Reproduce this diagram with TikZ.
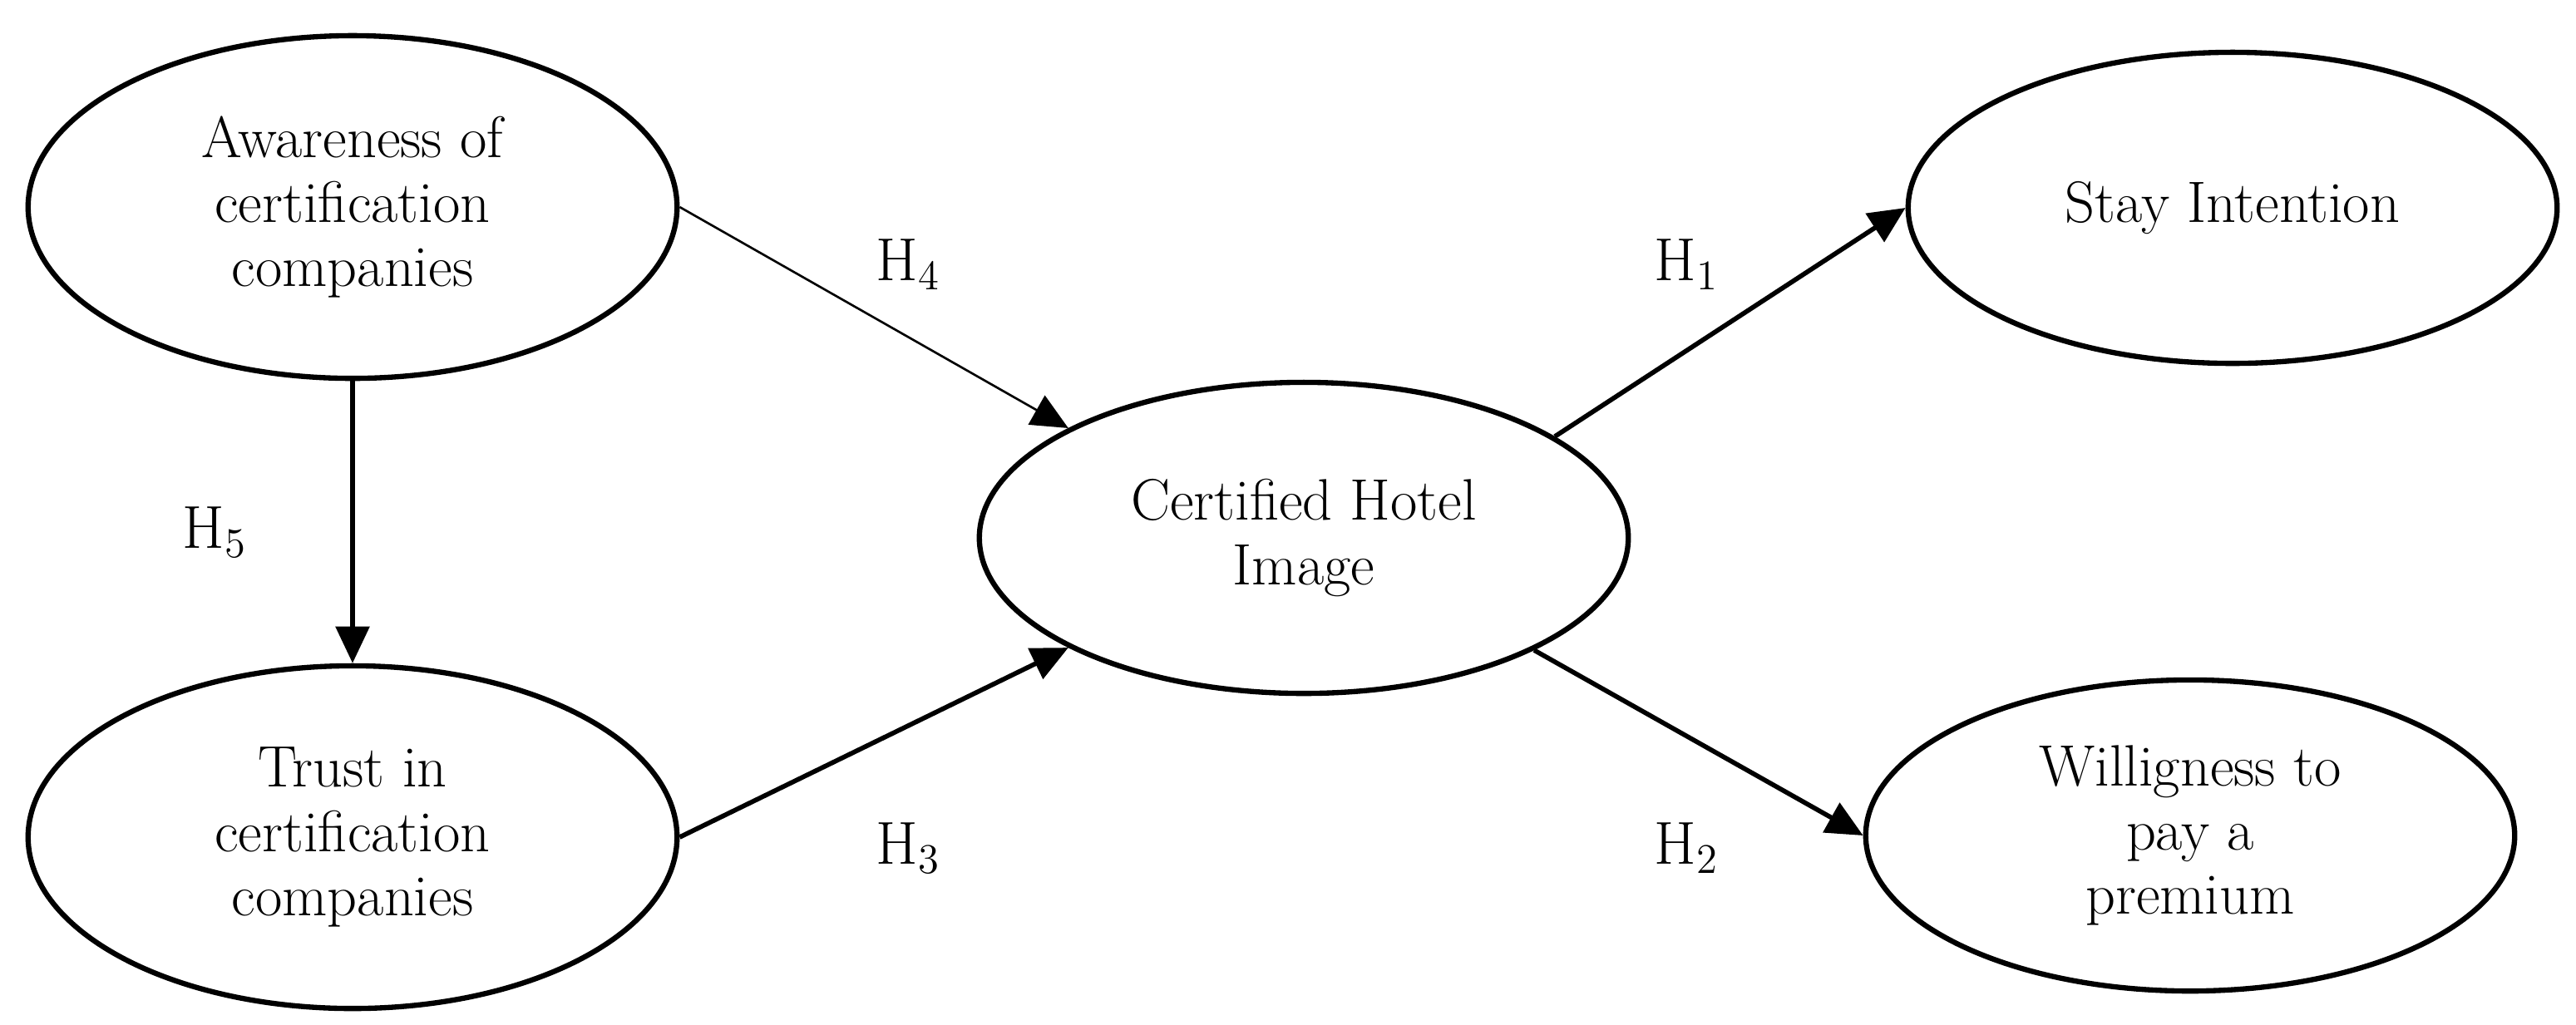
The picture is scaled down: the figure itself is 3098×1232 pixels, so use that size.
\documentclass[tikz,border=0pt]{standalone}
\usetikzlibrary{shapes.geometric,arrows.meta}
\begin{document}
\begin{tikzpicture}[x=0.01cm,y=-0.01cm,
  construct/.style={ellipse, draw, line width=1.8pt, minimum width=7.8cm, inner sep=0pt, align=center, font=\fontsize{20}{22}\selectfont},
  thickpath/.style={line width=1.6pt, -{Triangle[length=0.44cm,width=0.4cm]}},
  thinpath/.style={line width=0.75pt, -{Triangle[length=0.44cm,width=0.4cm]}},
  hlabel/.style={font=\fontsize{22}{24}\selectfont, inner sep=0pt}]
\useasboundingbox (0,0) rectangle (3098,1232);
\node[construct, minimum height=4.12cm] (aware) at (424,249) {Awareness of\\certification\\companies};
\node[construct, minimum height=4.12cm] (trust) at (424,1007) {Trust in\\certification\\companies};
\node[construct, minimum height=3.74cm] (cert) at (1568,647) {Certified Hotel\\Image};
\node[construct, minimum height=3.74cm] (stay) at (2685,250) {Stay Intention};
\node[construct, minimum height=3.74cm] (will) at (2634,1005) {Willigness to\\pay a\\premium};
\draw[thinpath] (aware.east) -- (cert.155);
\draw[thickpath] (aware.south) -- (trust.north);
\draw[thickpath] (trust.east) -- (cert.205);
\draw[thickpath] (cert.22) -- (stay.west);
\draw[thickpath] (cert.-26) -- (will.west);
\node[hlabel] (h4) at (1092,318) {$\mathrm{H}_{4}$};
\node[hlabel] (h5) at (258,640) {$\mathrm{H}_{5}$};
\node[hlabel] (h3) at (1092,1020) {$\mathrm{H}_{3}$};
\node[hlabel] (h1) at (2028,318) {$\mathrm{H}_{1}$};
\node[hlabel] (h2) at (2028,1020) {$\mathrm{H}_{2}$};
\end{tikzpicture}
\end{document}
